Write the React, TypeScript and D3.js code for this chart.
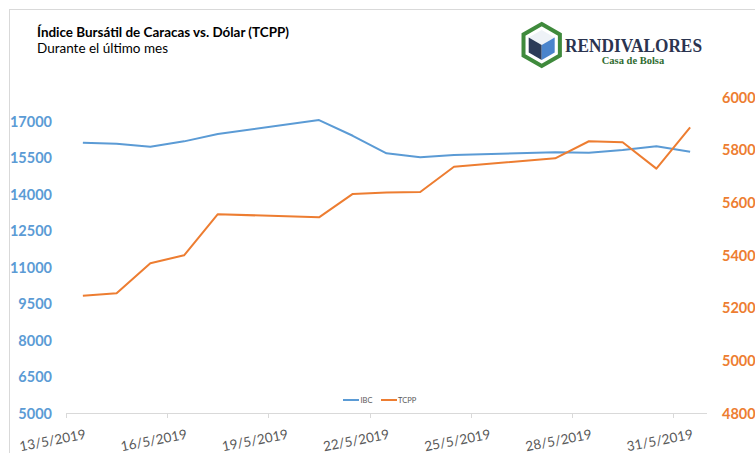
import React from "react";
import * as d3 from "d3";

const dates = [
  "2019-05-13", "2019-05-14", "2019-05-15", "2019-05-16", "2019-05-17",
  "2019-05-20", "2019-05-21", "2019-05-22", "2019-05-23", "2019-05-24",
  "2019-05-27", "2019-05-28", "2019-05-29", "2019-05-30", "2019-05-31",
];
const ibc = [16120, 16080, 15955, 16175, 16475, 17050, 16405, 15685, 15520, 15615, 15725, 15710, 15820, 15970, 15750];
const tcpp = [5245, 5255, 5369, 5399, 5555, 5543, 5632, 5637, 5639, 5735, 5767, 5832, 5828, 5728, 5885];
const leftTicks = [5000, 6500, 8000, 9500, 11000, 12500, 14000, 15500, 17000];
const rightTicks = [4800, 5000, 5200, 5400, 5600, 5800, 6000];
const seriesNames = ["IBC", "TCPP"];

const BLUE = "#5b9bd5";
const ORANGE = "#ed7d31";
const GRAY = "#595959";
const FONT = "Lato, 'Open Sans', sans-serif";

export default function App() {
  const parse = d3.timeParse("%Y-%m-%d");
  const ds = dates.map((s) => parse(s) as Date);
  const start = parse("2019-05-13") as Date;
  const end = parse("2019-06-01") as Date;
  const x = d3.scaleTime().domain([start, end]).range([66, 707]);
  const yL = d3.scaleLinear().domain([5000, 18000]).range([413, 97]);
  const yR = d3.scaleLinear().domain([4800, 6000]).range([413, 97]);
  const xTicks = d3.timeDay.range(start, end, 3).filter((d) => d.getDate() % 3 === 1);
  const fmt = d3.timeFormat("%-d/%-m/%Y");
  const xc = (d: Date) => x(d3.timeHour.offset(d, 12));

  const lineL = d3.line<number>().x((_, i) => xc(ds[i])).y((v) => yL(v));
  const lineR = d3.line<number>().x((_, i) => xc(ds[i])).y((v) => yR(v));

  // logo hexagons
  const cx = 541.7, cy = 45;
  const hexPts = (r: number) =>
    d3.range(6).map((k) => {
      const a = (Math.PI / 3) * k - Math.PI / 2;
      return [cx + r * Math.cos(a), cy + r * Math.sin(a)];
    });
  const outer = hexPts(21);
  const inner = hexPts(15);
  const P = (pts: number[][]) => "M" + pts.map((p) => p.join(",")).join("L") + "Z";
  const c = [cx, cy];
  // inner vertices: 0 top, 1 upper-right, 2 lower-right, 3 bottom, 4 lower-left, 5 upper-left
  const topFace = [inner[0], inner[1], c, inner[5]];
  const leftFace = [inner[5], c, inner[3], inner[4]];
  const rightFace = [c, inner[1], inner[2], inner[3]];

  return (
    <svg
      width={755}
      height={453}
      style={{ position: "absolute", left: 0, top: 0, background: "#fff" }}
      fontFamily={FONT}
    >
      <rect x={0} y={0} width={755} height={453} fill="#fff" />
      <rect x={9.5} y={9.5} width={800} height={500} fill="#fff" stroke="#d9d9d9" />

      {/* title */}
      <text x={37} y={36.5} fontSize={13.5} fontWeight="bold" fill="#000" textLength={252} lengthAdjust="spacingAndGlyphs">
        Índice Bursátil de Caracas vs. Dólar (TCPP)
      </text>
      <text x={37} y={53} fontSize={13.5} fill="#000" textLength={131} lengthAdjust="spacingAndGlyphs">
        Durante el último mes
      </text>

      {/* logo */}
      <path d={P(outer)} fill="#fff" stroke="#3f8a3c" strokeWidth={4} />
      <path d={P(topFace)} fill="#eef2f7" />
      <path d={P(leftFace)} fill="#2c3b58" />
      <path d={P(rightFace)} fill="#4a84cc" />
      <text x={565} y={52} fontFamily="'Liberation Serif', 'DejaVu Serif', serif" fontWeight="bold" fontSize={19} fill="#2b3450" textLength={137} lengthAdjust="spacingAndGlyphs">
        RENDIVALORES
      </text>
      <text x={633} y={63.5} textAnchor="middle" fontFamily="'Liberation Serif', 'DejaVu Serif', serif" fontWeight="bold" fontSize={10.5} fill="#2f6b2f">
        Casa de Bolsa
      </text>

      {/* x axis */}
      <line x1={66} x2={707} y1={413.5} y2={413.5} stroke="#d9d9d9" strokeWidth={1} />
      {xTicks.map((t, i) => (
        <g key={i}>
          <line x1={Math.round(x(t)) + 0.5} x2={Math.round(x(t)) + 0.5} y1={413} y2={418} stroke="#d9d9d9" />
          <text
            transform={`translate(${x(t) - 13.5},440) rotate(-11)`}
            textAnchor="middle"
            dominantBaseline="central"
            fontSize={13.5}
            fill={GRAY}
          >
            {fmt(t)}
          </text>
        </g>
      ))}

      {/* left axis labels */}
      {leftTicks.map((v) => (
        <text key={v} x={52} y={yL(v)} textAnchor="end" dominantBaseline="central" fontSize={14.5} fontWeight="bold" fill={BLUE}>
          {v}
        </text>
      ))}
      {/* right axis labels */}
      {rightTicks.map((v) => (
        <text key={v} x={722} y={yR(v)} textAnchor="start" dominantBaseline="central" fontSize={14.5} fontWeight="bold" fill={ORANGE}>
          {v}
        </text>
      ))}

      {/* series */}
      <path d={lineL(ibc) as string} fill="none" stroke={BLUE} strokeWidth={2} strokeLinejoin="round" />
      <path d={lineR(tcpp) as string} fill="none" stroke={ORANGE} strokeWidth={2} strokeLinejoin="round" />

      {/* legend */}
      <line x1={343} x2={359} y1={400} y2={400} stroke={BLUE} strokeWidth={2} />
      <text x={360.5} y={400} dominantBaseline="central" fontSize={7.5} fill={GRAY}>{seriesNames[0]}</text>
      <line x1={381} x2={397} y1={400} y2={400} stroke={ORANGE} strokeWidth={2} />
      <text x={398} y={400} dominantBaseline="central" fontSize={7.5} fill={GRAY}>{seriesNames[1]}</text>
    </svg>
  );
}
